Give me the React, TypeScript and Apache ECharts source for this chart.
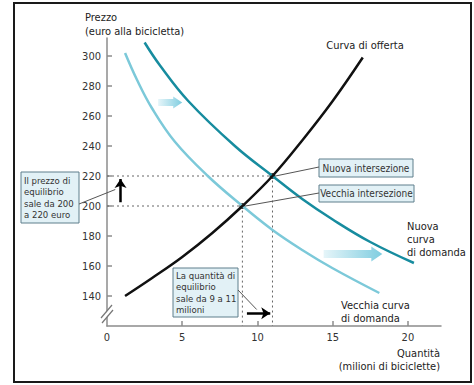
import React, { useEffect, useRef } from 'react';
import * as echarts from 'echarts';

// ---- data (quantity in million bicycles, price in euro) ----
const supplyCurve = [[1.2, 140], [3, 152], [5, 166], [7, 182], [9, 200], [11, 220], [13, 244], [15, 270], [17, 299]];
const oldDemand = [[1.2, 302], [2, 284], [3, 265], [4.5, 243], [6.7, 220], [9, 200], [11, 184], [13, 170.5], [15, 158.5], [18.1, 142]];
const newDemand = [[2.5, 309], [3.5, 294], [5.4, 270], [8.5, 240], [11, 220], [13, 204.5], [15, 191], [17.5, 176], [20.4, 162]];
const oldEq = [9, 200];
const newEq = [11, 220];
const xTicks = [0, 5, 10, 15, 20];
const xTickMarks = [5, 10, 15, 20];
const yTicks = [140, 160, 180, 200, 220, 240, 260, 280, 300];
const priceArrow = [[0.9, 202.5], [0.9, 218]];
const quantityArrow = [[9.3, 128.5], [10.85, 128.5]];
const shiftArrows = [[3.4, 5.0, 269], [14.4, 18.3, 168]];

const FONT = '"Liberation Sans Narrow", "DejaVu Sans Condensed", "Arial Narrow", Arial, sans-serif';

export default function App() {
  const ref = useRef<HTMLDivElement>(null);
  useEffect(() => {
    document.body.style.margin = '0';
    const chart = echarts.init(ref.current!, null, { renderer: 'svg' });
    const axisColor = '#8c8c8c';
    const dashStyle = { color: '#666', width: 1, type: [2, 3] };
    chart.setOption({
      animation: false,
      backgroundColor: '#fff',
      grid: { left: 107, right: 33, top: 38, bottom: 59 },
      xAxis: {
        type: 'value', min: 0, max: 22.2, interval: 5,
        splitLine: { show: false },
        axisLine: { lineStyle: { color: axisColor, width: 1.5 } },
        axisTick: { inside: true, length: 5, customValues: xTickMarks, lineStyle: { color: axisColor, width: 1.5 } },
        axisLabel: { customValues: xTicks, color: '#333', fontFamily: FONT, fontSize: 11, margin: 6 },
      },
      yAxis: {
        type: 'value', min: 120, max: 312, interval: 20,
        splitLine: { show: false },
        axisLine: { show: true, lineStyle: { color: axisColor, width: 1.5 } },
        axisTick: { show: true, inside: true, length: 5, customValues: yTicks, lineStyle: { color: axisColor, width: 1.5 } },
        axisLabel: { customValues: yTicks, color: '#333', fontFamily: FONT, fontSize: 11, margin: 6 },
      },
      series: [
        { type: 'line', data: [[0, newEq[1]], newEq, [newEq[0], 120]], showSymbol: false, lineStyle: dashStyle, silent: true },
        { type: 'line', data: [[0, oldEq[1]], oldEq, [oldEq[0], 120]], showSymbol: false, lineStyle: dashStyle, silent: true },
        { type: 'line', name: 'Vecchia curva di domanda', data: oldDemand, smooth: 0.4, showSymbol: false, lineStyle: { color: '#7cc9d9', width: 2.5 } },
        { type: 'line', name: 'Nuova curva di domanda', data: newDemand, smooth: 0.4, showSymbol: false, lineStyle: { color: '#178c9f', width: 2.5 } },
        { type: 'line', name: 'Curva di offerta', data: supplyCurve, smooth: 0.4, showSymbol: false, lineStyle: { color: '#111', width: 2.5 } },
        {
          type: 'custom',
          data: shiftArrows,
          encode: { x: [0, 1], y: 2 },
          renderItem: (params: any, api: any) => {
            const a = api.coord([api.value(0), api.value(2)]);
            const b = api.coord([api.value(1), api.value(2)]);
            const big = params.dataIndex === 1;
            const h = big ? 4 : 3.5, hh = big ? 7.5 : 6, hl = big ? 11 : 9;
            const y = a[1];
            const pts = [[a[0], y - h], [b[0] - hl, y - h], [b[0] - hl, y - hh], [b[0], y], [b[0] - hl, y + hh], [b[0] - hl, y + h], [a[0], y + h]];
            return {
              type: 'polygon',
              shape: { points: pts },
              style: {
                fill: new echarts.graphic.LinearGradient(0, 0, 1, 0, [
                  { offset: 0, color: '#e6f5f9' },
                  { offset: 1, color: '#7fcde0' },
                ]),
              },
            };
          },
        },
        {
          type: 'scatter',
          data: [oldEq, newEq],
          symbolSize: 6,
          itemStyle: { color: '#000' },
          markLine: {
            silent: true,
            symbol: ['none', 'arrow'],
            symbolSize: [9, 9],
            label: { show: false },
            lineStyle: { color: '#000', width: 2.5, type: 'solid' },
            data: [
              [{ coord: priceArrow[0] }, { coord: priceArrow[1] }],
              [{ coord: quantityArrow[0] }, { coord: quantityArrow[1] }],
            ],
          },
        },
      ],
    });

    const px = (pt: number[]) => chart.convertToPixel({ gridIndex: 0 } as any, pt) as number[];
    const newP = px(newEq);
    const oldP = px(oldEq);
    const brk = px([0, 128]);
    const leader = (x1: number, y1: number, x2: number, y2: number) => ({
      type: 'line', shape: { x1, y1, x2, y2 }, style: { stroke: '#555', lineWidth: 1 }, z: 5,
    });
    const box = (x: number, y: number, w: number, h: number, lines: string[], align: 'left' | 'center', lh: number, fs = 9.5) => ({
      type: 'group', z: 10,
      children: [
        { type: 'rect', shape: { x, y, width: w, height: h }, style: { fill: '#e2f1f6', stroke: '#5f7f8c', lineWidth: 1 } },
        {
          type: 'text', x: align === 'left' ? x + 3 : x + w / 2, y: y + h / 2,
          style: { text: lines.join('\n'), fill: '#333', font: `${fs}px ${FONT}`, lineHeight: lh, align, verticalAlign: 'middle' },
        },
      ],
    });
    const txt = (x: number, y: number, text: string, align = 'left', lh = 12.5) => ({
      type: 'text', x, y, z: 10,
      style: { text, fill: '#222', font: `11px ${FONT}`, align, verticalAlign: 'middle', lineHeight: lh },
    });
    const pA = px([0.55, 211]);
    const qA = px([9.95, 131]);

    chart.setOption({
      graphic: [
        { type: 'rect', shape: { x: 14, y: 3, width: 457, height: 379 }, style: { fill: 'none', stroke: '#1a1a1a', lineWidth: 2 } },
        // axis break
        { type: 'polygon', shape: { points: [[brk[0] - 5, brk[1] + 9], [brk[0] + 5, brk[1] - 4], [brk[0] + 5, brk[1] - 9], [brk[0] - 5, brk[1] + 4]] }, style: { fill: '#fff' }, z: 8 },
        { type: 'line', shape: { x1: brk[0] - 5, y1: brk[1] + 9, x2: brk[0] + 6, y2: brk[1] - 4 }, style: { stroke: '#777', lineWidth: 1.2 }, z: 9 },
        { type: 'line', shape: { x1: brk[0] - 6, y1: brk[1] + 4, x2: brk[0] + 5, y2: brk[1] - 9 }, style: { stroke: '#777', lineWidth: 1.2 }, z: 9 },
        // leader lines
        leader(79, 204, pA[0], pA[1]),
        leader(238, 290, qA[0], qA[1]),
        leader(319, 167, newP[0] + 3, newP[1]),
        leader(319, 193, oldP[0] + 3, oldP[1]),
        // boxes
        box(21, 172, 58, 51, ['Il prezzo di', 'equilibrio', 'sale da 200', 'a 220 euro'], 'left', 11.5),
        box(173, 268, 65, 49, ['La quantità di', 'equilibrio', 'sale da 9 a 11', 'milioni'], 'left', 11.5),
        box(319, 159, 94, 18, ['Nuova intersezione'], 'center', 12, 10),
        box(319, 185, 95, 17, ['Vecchia intersezione'], 'center', 12, 10),
        // labels
        txt(85, 17, 'Prezzo'),
        txt(85, 31, '(euro alla bicicletta)'),
        txt(365, 45, 'Curva di offerta', 'center'),
        txt(407, 239, 'Nuova\ncurva\ndi domanda', 'left', 13),
        txt(341, 312, 'Vecchia curva\ndi domanda', 'left', 13),
        txt(440, 353, 'Quantità', 'right'),
        txt(440, 366, '(milioni di biciclette)', 'right'),
      ],
    });
    return () => chart.dispose();
  }, []);
  return <div ref={ref} style={{ position: 'absolute', left: 0, top: 0, width: 474, height: 385 }} />;
}
